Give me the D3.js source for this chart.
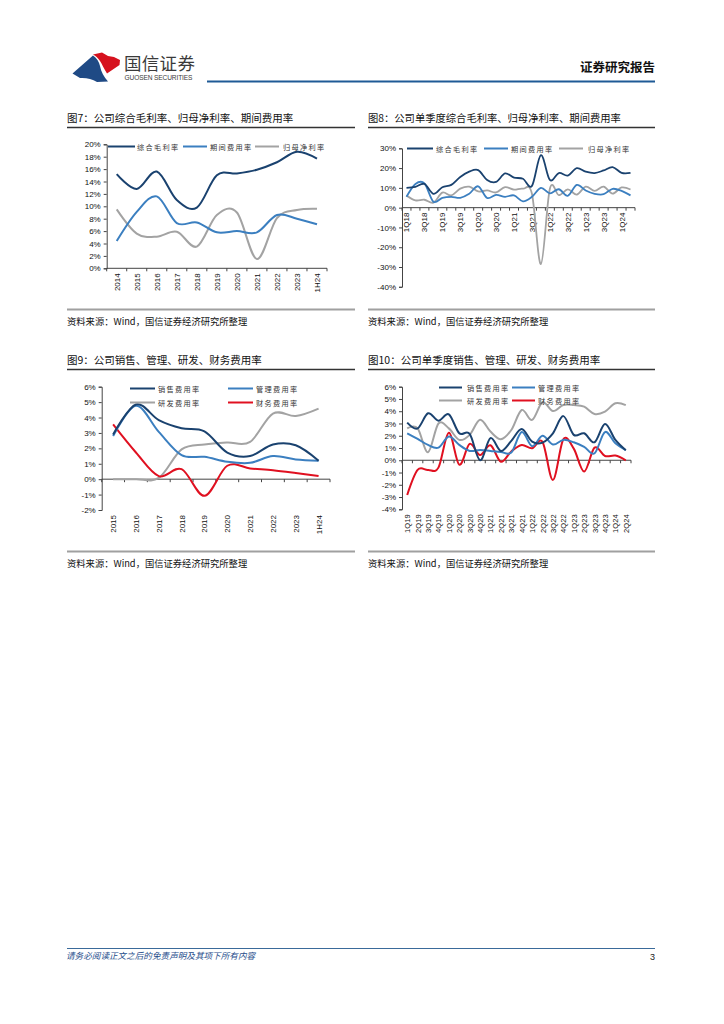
<!DOCTYPE html>
<html><head><meta charset="utf-8">
<script src="https://cdn.jsdelivr.net/npm/d3@7"></script>
<style>body{margin:0;background:#fff}svg{display:block}</style>
</head><body><svg id="page" width="724" height="1024"></svg>
<script>
// ---------- DATA ----------
const c7Categories = ["2014","2015","2016","2017","2018","2019","2020","2021","2022","2023","1H24"];
const c7Gross   = [15.2,12.8,15.6,11.0,9.8,15.0,15.3,15.9,17.1,18.8,17.7];
const c7Expense = [4.4,9.1,11.6,7.3,7.4,5.8,6.0,5.8,8.6,8.0,7.1];
const c7Net     = [9.5,5.6,5.1,5.9,3.5,8.6,9.0,1.5,8.1,9.4,9.6];
const c7YTicks  = [0,2,4,6,8,10,12,14,16,18,20];

const c8Categories = ["1Q18","2Q18","3Q18","4Q18","1Q19","2Q19","3Q19","4Q19","1Q20","2Q20","3Q20","4Q20",
  "1Q21","2Q21","3Q21","4Q21","1Q22","2Q22","3Q22","4Q22","1Q23","2Q23","3Q23","4Q23","1Q24","2Q24"];
const c8Gross   = [10.0,10.5,12.0,7.0,10.3,11.5,15.5,18.2,19.0,14.0,13.0,17.3,15.2,14.6,11.0,26.5,14.0,17.5,16.2,20.0,18.2,17.5,18.8,20.5,17.6,17.6];
const c8Expense = [5.5,12.0,12.3,3.0,5.0,5.5,5.0,7.0,10.8,4.9,6.5,5.5,6.2,3.2,5.5,10.0,7.2,9.3,6.0,11.5,8.7,7.0,6.8,9.5,8.5,6.2];
const c8Net     = [6.2,3.7,4.0,2.5,7.6,6.2,9.6,10.6,8.2,8.7,7.7,10.4,9.1,9.6,7.0,-28.5,9.6,6.3,9.2,6.6,10.6,8.5,10.6,7.1,10.2,9.2];
const c8YTicks  = [-40,-30,-20,-10,0,10,20,30];

const c9Categories = ["2015","2016","2017","2018","2019","2020","2021","2022","2023","1H24"];
const c9Selling = [2.9,4.85,3.83,3.3,3.1,1.73,1.5,2.25,2.2,1.2];
const c9Admin   = [2.8,4.76,3.07,1.56,1.45,1.13,1.06,1.5,1.28,1.2];
const c9RD      = [0,0,0.08,1.93,2.25,2.38,2.42,4.26,4.1,4.58];
const c9Finance = [3.55,1.73,0.2,0.65,-1.08,0.87,0.7,0.58,0.4,0.2];
const c9YTicks  = [-2,-1,0,1,2,3,4,5,6];

const c10Categories = ["1Q19","2Q19","3Q19","4Q19","1Q20","2Q20","3Q20","4Q20","1Q21","2Q21","3Q21","4Q21",
  "1Q22","2Q22","3Q22","4Q22","1Q23","2Q23","3Q23","4Q23","1Q24","2Q24"];
const c10Selling = [3.07,2.6,3.83,3.23,3.75,2.2,2.15,0.0,1.8,0.76,1.58,2.55,1.52,1.44,2.2,3.6,2.07,2.2,1.47,2.96,1.66,0.82];
const c10Admin   = [2.2,1.74,1.25,1.03,1.93,1.25,0.76,0.84,0.76,0.68,0.63,2.3,1.15,2.0,1.28,1.66,1.47,1.1,0.57,2.3,1.38,0.82];
const c10RD      = [2.6,2.6,0.65,3.0,2.6,1.66,2.07,3.3,2.34,1.71,2.47,4.1,3.29,4.73,4.02,4.51,4.5,4.37,3.78,3.97,4.65,4.5];
const c10Finance = [-2.83,-0.79,-0.79,-0.6,2.25,-0.36,1.33,0.43,1.22,-0.12,0.72,1.25,0.98,1.5,-1.6,1.7,0.95,-0.92,1.03,0.35,0.38,0.0];
const c10YTicks  = [-4,-3,-2,-1,0,1,2,3,4,5,6];

// ---------- STYLE ----------
const NAVY = "#1a426f", BLUE = "#3b7fc0", GRAY = "#a3a3a3", RED = "#e01020";
const CJK = "'Noto Sans CJK SC','Noto Sans',sans-serif";
const NUM = "'Liberation Sans',Arial,sans-serif";

const svg = d3.select("#page");
svg.append("rect").attr("width",724).attr("height",1024).attr("fill","#fff");

// ---------- HEADER ----------
const hdr = svg.append("g");
hdr.append("path").attr("d","M72.5,73.5 L93,55.5 C97,58 99,62 100,66 C101,72 104,77 108,81.5 L97,82 C92,79 86,77.5 80,78 Z").attr("fill","#1f4a85");
hdr.append("path").attr("d","M93,54.5 L102,52.5 L108,56 L114,57 L120,60 L119.5,65 L107,73.5 C104,69 102,64 100,61 C98,58 96,56 93,54.5 Z").attr("fill","#d6121e");
hdr.append("text").attr("x",124).attr("y",70).attr("font-family",CJK).attr("font-size",17.5).attr("fill","#3a3a3a").attr("letter-spacing",0.3).text("国信证券");
hdr.append("text").attr("x",124.5).attr("y",79.5).attr("font-family",NUM).attr("font-size",6.6).attr("fill","#3a3a3a").attr("textLength",68).text("GUOSEN SECURITIES");
hdr.append("line").attr("x1",207).attr("x2",655).attr("y1",81.5).attr("y2",81.5).attr("stroke","#1f5a96").attr("stroke-width",2);
hdr.append("text").attr("x",655).attr("y",72).attr("text-anchor","end").attr("font-family",CJK).attr("font-size",12.5).attr("font-weight","bold").attr("fill","#111").text("证券研究报告");

// ---------- FOOTER ----------
svg.append("line").attr("x1",67).attr("x2",655).attr("y1",948.5).attr("y2",948.5).attr("stroke","#3a6a9a").attr("stroke-width",1);
svg.append("text").attr("x",66).attr("y",959).attr("font-family",CJK).attr("font-size",8.6).attr("font-style","italic").attr("fill","#1f4e8c").text("请务必阅读正文之后的免责声明及其项下所有内容");
svg.append("text").attr("x",655).attr("y",959.5).attr("text-anchor","end").attr("font-family",NUM).attr("font-size",9).attr("fill","#222").text("3");

// ---------- CHART FUNCTION ----------
function drawChart(o){
  const g = svg.append("g");
  g.append("text").attr("x",o.left).attr("y",o.titleY).attr("font-family",CJK).attr("font-size",o.titleSize||10.5)
    .attr("fill","#111").text(o.title);
  g.append("line").attr("x1",o.left).attr("x2",o.right).attr("y1",o.ulY).attr("y2",o.ulY).attr("stroke","#333").attr("stroke-width",1.3);
  g.append("line").attr("x1",o.left).attr("x2",o.right).attr("y1",o.srcLineY).attr("y2",o.srcLineY).attr("stroke","#a0a0a0").attr("stroke-width",2);
  g.append("text").attr("x",o.left).attr("y",o.srcLineY+15).attr("font-family",CJK).attr("font-size",9.3).attr("fill","#111")
    .text("资料来源：Wind，国信证券经济研究所整理");

  const x = d3.scaleBand().domain(o.cats).range([o.x0,o.x1]).padding(0);
  const y = d3.scaleLinear().domain(o.yDomain).range([o.yBottom,o.yTop]);
  const bw = x.bandwidth();

  // y axis
  const ya = g.append("g").attr("transform",`translate(${o.x0},0)`)
    .call(d3.axisLeft(y).tickValues(o.yTicks).tickSize(3).tickPadding(3).tickFormat(d=>d+"%"));
  ya.select(".domain").attr("stroke","#444");
  ya.selectAll(".tick line").attr("stroke","#444");
  ya.selectAll(".tick text").attr("font-family",NUM).attr("font-size",8).attr("fill","#111");

  // x axis at zero
  const y0 = y(0);
  g.append("line").attr("x1",o.x0).attr("x2",o.x1).attr("y1",y0).attr("y2",y0).attr("stroke","#444").attr("stroke-width",1);
  const bounds = o.cats.map(c=>x(c)).concat([o.x1]);
  g.selectAll(".xt").data(bounds).join("line").attr("x1",d=>d).attr("x2",d=>d)
    .attr("y1",y0).attr("y2",y0+3).attr("stroke","#444");
  const labY = o.labelsAtBottom ? o.yBottom + 5 : y0 + 5;
  g.selectAll(".xl").data(o.cats.filter((c,i)=>i % (o.labelStep||1) === 0)).join("text")
    .attr("transform",d=>`translate(${x(d)+bw/2+3},${labY}) rotate(-90)`)
    .attr("text-anchor","end").attr("font-family",NUM).attr("font-size",o.xFont||8).attr("fill","#111").text(d=>d);

  // lines
  const line = d3.line().x((d,i)=>x(o.cats[i])+bw/2).y(d=>y(d)).curve(d3.curveCatmullRom.alpha(0));
  o.series.forEach(s=>{
    g.append("path").datum(s.values).attr("d",line).attr("fill","none").attr("stroke",s.color)
      .attr("stroke-width",o.lw||2).attr("stroke-linejoin","round");
  });

  // legend
  o.legend.forEach(l=>{
    g.append("line").attr("x1",l.lx1).attr("x2",l.lx2).attr("y1",l.y).attr("y2",l.y).attr("stroke",l.color).attr("stroke-width",2);
    g.append("text").attr("x",l.tx).attr("y",l.y+3).attr("font-family",CJK).attr("font-size",7.2)
      .attr("letter-spacing",1.3).attr("fill","#333").text(l.label);
  });
}

// ---------- CHART 7 ----------
drawChart({
  title:"图7：公司综合毛利率、归母净利率、期间费用率", left:67, right:355, titleY:121.5, ulY:127.5, srcLineY:309.5,
  cats:c7Categories, x0:106.7, x1:327, yDomain:[0,20], yBottom:268.3, yTop:144.3, yTicks:c7YTicks,
  series:[{values:c7Net,color:GRAY},{values:c7Expense,color:BLUE},{values:c7Gross,color:NAVY}],
  legend:[
    {lx1:108,lx2:135,tx:137,y:146.5,color:NAVY,label:"综合毛利率"},
    {lx1:183,lx2:207,tx:210,y:146.5,color:BLUE,label:"期间费用率"},
    {lx1:255,lx2:279,tx:283,y:146.5,color:GRAY,label:"归母净利率"}
  ]
});

// ---------- CHART 8 ----------
drawChart({
  title:"图8：公司单季度综合毛利率、归母净利率、期间费用率", left:368, right:655, titleY:121.5, ulY:127.5, srcLineY:309.5, titleSize:10.3,
  cats:c8Categories, x0:402, x1:635, yDomain:[-40,30], yBottom:286.8, yTop:148.3, yTicks:c8YTicks, labelStep:2,
  lw:1.8,
  series:[{values:c8Net,color:GRAY},{values:c8Expense,color:BLUE},{values:c8Gross,color:NAVY}],
  legend:[
    {lx1:407,lx2:433,tx:436,y:148.5,color:NAVY,label:"综合毛利率"},
    {lx1:484,lx2:508,tx:511,y:148.5,color:BLUE,label:"期间费用率"},
    {lx1:559,lx2:583,tx:588,y:148.5,color:GRAY,label:"归母净利率"}
  ]
});

// ---------- CHART 9 ----------
drawChart({
  title:"图9：公司销售、管理、研发、财务费用率", left:67, right:355, titleY:364, ulY:369.5, srcLineY:551.5,
  cats:c9Categories, x0:101.7, x1:330, yDomain:[-2,6], yBottom:510, yTop:386.7, yTicks:c9YTicks, labelsAtBottom:true,
  series:[{values:c9RD,color:GRAY},{values:c9Finance,color:RED},{values:c9Admin,color:BLUE},{values:c9Selling,color:NAVY}],
  legend:[
    {lx1:130,lx2:155,tx:158,y:388.5,color:NAVY,label:"销售费用率"},
    {lx1:228,lx2:253,tx:256,y:388.5,color:BLUE,label:"管理费用率"},
    {lx1:130,lx2:155,tx:158,y:402.5,color:GRAY,label:"研发费用率"},
    {lx1:228,lx2:253,tx:256,y:402.5,color:RED,label:"财务费用率"}
  ]
});

// ---------- CHART 10 ----------
drawChart({
  title:"图10：公司单季度销售、管理、研发、财务费用率", left:368, right:655, titleY:364, ulY:369.5, srcLineY:551.5,
  cats:c10Categories, x0:402, x1:631, yDomain:[-4,6], yBottom:509.3, yTop:386.7, yTicks:c10YTicks, labelsAtBottom:true, xFont:7.6,
  series:[{values:c10RD,color:GRAY},{values:c10Finance,color:RED},{values:c10Admin,color:BLUE},{values:c10Selling,color:NAVY}],
  legend:[
    {lx1:439,lx2:462,tx:467,y:387.5,color:NAVY,label:"销售费用率"},
    {lx1:512,lx2:535,tx:538,y:387.5,color:BLUE,label:"管理费用率"},
    {lx1:439,lx2:462,tx:467,y:400.5,color:GRAY,label:"研发费用率"},
    {lx1:512,lx2:535,tx:538,y:400.5,color:RED,label:"财务费用率"}
  ]
});
</script></body></html>
